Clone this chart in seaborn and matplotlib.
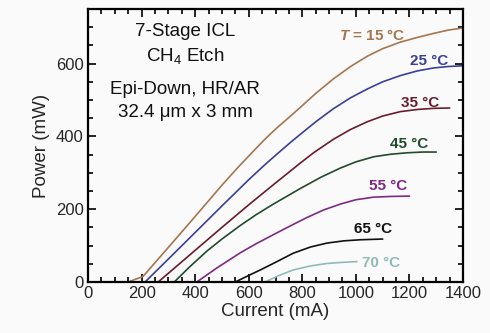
import matplotlib
matplotlib.use("Agg")
import matplotlib.pyplot as plt
from matplotlib.ticker import MultipleLocator
import seaborn as sns
import pandas as pd

# ---- data ----
temps = ["15", "25", "35", "45", "55", "65", "70"]

cur_15 = [150, 205, 300, 400, 500, 560, 618, 660, 700, 750, 793, 850, 916, 980,
          1042, 1100, 1166, 1230, 1290, 1345, 1400]
pow_15 = [0, 15, 95, 180, 266, 315, 360, 392, 420, 452, 480, 518, 558, 592,
          620, 641, 659, 672, 683, 692, 698]

cur_25 = [213, 300, 400, 500, 600, 660, 711, 760, 793, 850, 916, 980, 1042,
          1100, 1166, 1230, 1290, 1345, 1400]
pow_25 = [0, 63, 136, 209, 281, 322, 355, 386, 406, 440, 476, 506, 530,
          550, 567, 580, 588, 592, 594]

cur_35 = [262, 400, 500, 600, 700, 793, 842, 916, 980, 1042, 1100, 1166,
          1230, 1290, 1350]
pow_35 = [0, 87, 150, 212, 272, 327, 355, 392, 419, 440, 456, 468,
          474, 477, 478]

cur_45 = [322, 380, 444, 500, 568, 630, 692, 793, 870, 942, 1000, 1066,
          1130, 1192, 1250, 1300]
pow_45 = [0, 42, 85, 118, 155, 186, 214, 257, 288, 313, 330, 344,
          351, 355, 357, 357]

cur_55 = [406, 480, 568, 630, 692, 755, 817, 880, 942, 1000, 1066, 1130, 1200]
pow_55 = [0, 38, 80, 106, 130, 154, 177, 198, 214, 226, 233, 235, 236]

cur_65 = [550, 600, 643, 700, 766, 830, 893, 955, 1017, 1100]
pow_65 = [0, 18, 33, 54, 79, 96, 107, 113, 116, 118]

cur_70 = [662, 710, 766, 830, 893, 950, 1004]
pow_70 = [0, 17, 33, 44, 51, 54, 56]

currents = [cur_15, cur_25, cur_35, cur_45, cur_55, cur_65, cur_70]
powers = [pow_15, pow_25, pow_35, pow_45, pow_55, pow_65, pow_70]

labels = ["$T$ = 15 °C", "25 °C", "35 °C", "45 °C", "55 °C", "65 °C", "70 °C"]
colors = ["#a57650", "#3b3f98", "#6a1c2c", "#224a2c", "#7d2a82", "#111111", "#8fbcb7"]
# label anchor (right end, baseline) in data units
label_x = [1185, 1346, 1312, 1271, 1192, 1136, 1166]
label_y = [665, 596, 481, 368, 253, 135, 41]

info_lines = ["7-Stage ICL", "CH$_4$ Etch", "Epi-Down, HR/AR", "32.4 μm x 3 mm"]
info_y = [689, 620, 530, 467]
info_x = 363

x_ticks = [0, 200, 400, 600, 800, 1000, 1200, 1400]
y_ticks = [0, 200, 400, 600]

# ---- build long table ----
rows = []
for t, xs, ys in zip(temps, currents, powers):
    for xv, yv in zip(xs, ys):
        rows.append({"Current": xv, "Power": yv, "T": t})
df = pd.DataFrame(rows)

sns.set_theme(style="ticks")
plt.rcParams["font.family"] = ["Liberation Sans", "DejaVu Sans"]
plt.rcParams["mathtext.fontset"] = "custom"
plt.rcParams["mathtext.rm"] = "Liberation Sans"
plt.rcParams["mathtext.it"] = "Liberation Sans:italic:bold"
plt.rcParams["mathtext.bf"] = "Liberation Sans:bold"

fig = plt.figure(figsize=(4.9, 3.33), dpi=100, facecolor="#fafafa")
ax = fig.add_axes([0.1796, 0.1532, 0.7654, 0.8198])
ax.set_facecolor("#fafafa")

sns.lineplot(data=df, x="Current", y="Power", hue="T",
             palette=dict(zip(temps, colors)), estimator=None,
             legend=False, linewidth=1.2, ax=ax)

ax.set_xlim(0, 1400)
ax.set_ylim(0, 750)
ax.set_xticks(x_ticks)
ax.set_yticks(y_ticks)
ax.xaxis.set_minor_locator(MultipleLocator(50))
ax.yaxis.set_minor_locator(MultipleLocator(50))
ax.tick_params(which="both", direction="in", top=True, right=True,
               width=1.2, color="black")
ax.tick_params(which="major", length=6, labelsize=12, pad=3)
ax.tick_params(which="minor", length=3.5)
for s in ax.spines.values():
    s.set_linewidth(1.6)
    s.set_color("black")

ax.set_xlabel("Current (mA)", fontsize=13.5, labelpad=1)
ax.set_ylabel("Power (mW)", fontsize=13.5, labelpad=4)

for lab, c, lx, ly in zip(labels, colors, label_x, label_y):
    ax.text(lx, ly, lab, color=c, fontsize=11, fontweight="bold",
            ha="right", va="baseline")

for line, yy in zip(info_lines, info_y):
    ax.text(info_x, yy, line, fontsize=13.5, ha="center", va="center",
            color="#111111")

fig.savefig("out.png", dpi=100, facecolor=fig.get_facecolor())
